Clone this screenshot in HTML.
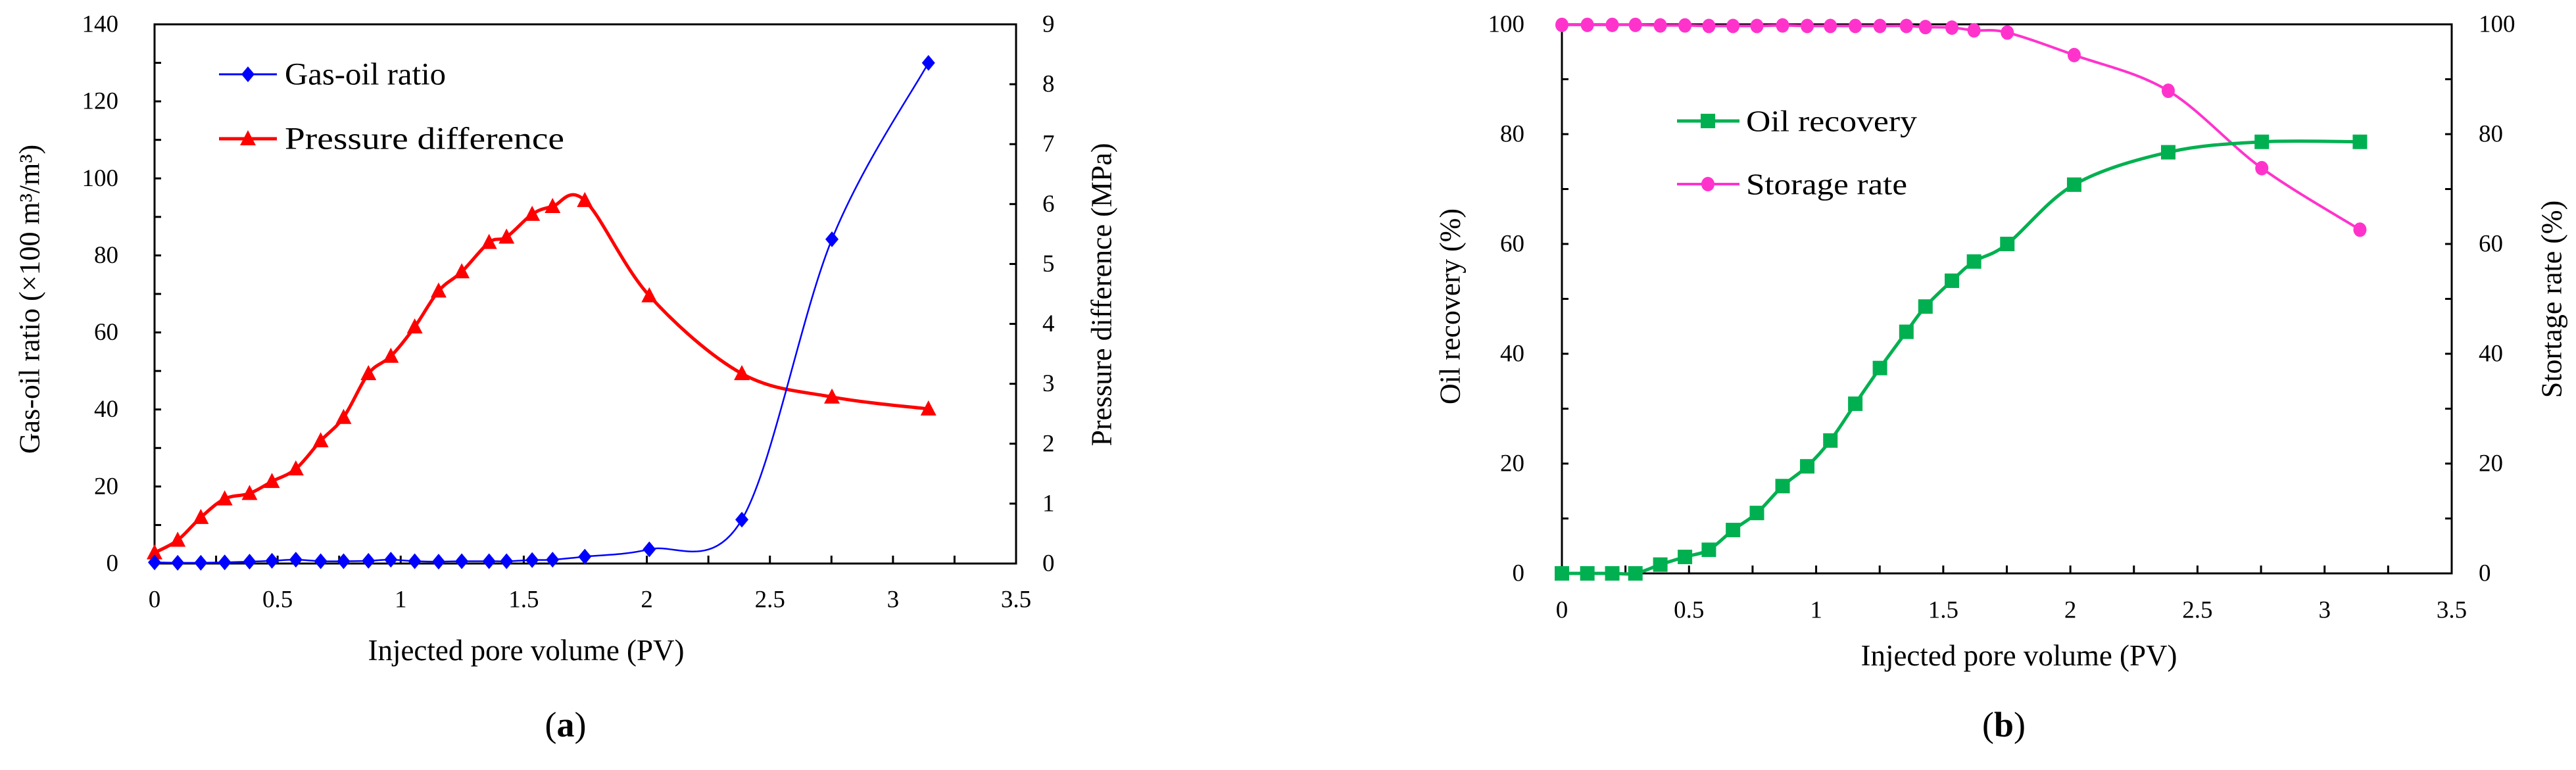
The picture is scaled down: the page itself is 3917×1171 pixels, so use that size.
<!DOCTYPE html>
<html><head><meta charset="utf-8"><style>
body{margin:0;background:#fff}
svg{display:block}
text{font-family:"Liberation Serif",serif;fill:#000}
</style></head><body>
<svg id="c" width="3917" height="1171" viewBox="0 0 3917 1171"></svg>
<script>
const xA=[0,0.094,0.188,0.285,0.386,0.477,0.574,0.675,0.768,0.869,0.96,1.057,1.154,1.248,1.359,1.43,1.534,1.617,1.748,2.01,2.386,2.752,3.144];
const gorVals=[0.3,0.2,0.2,0.3,0.5,0.7,1.0,0.6,0.6,0.7,1.0,0.6,0.5,0.6,0.6,0.6,0.9,1.0,1.8,3.7,11.4,84.2,130];
const pressVals=[0.18,0.39,0.77,1.08,1.17,1.37,1.58,2.05,2.44,3.17,3.46,3.95,4.55,4.87,5.36,5.45,5.83,5.96,6.06,4.47,3.17,2.78,2.58];
const xB=[0,0.1,0.198,0.289,0.387,0.484,0.578,0.673,0.767,0.868,0.965,1.056,1.154,1.251,1.355,1.43,1.534,1.621,1.752,2.015,2.385,2.753,3.139];
const oilVals=[0,0,0,0,1.6,3.0,4.3,7.9,11,15.9,19.5,24.2,30.9,37.4,44,48.6,53.3,56.8,60,70.8,76.7,78.6,78.6];
const storVals=[99.9,99.9,99.9,99.9,99.8,99.8,99.7,99.7,99.7,99.8,99.7,99.7,99.7,99.7,99.7,99.5,99.4,98.9,98.5,94.4,87.9,73.8,62.6];
const xTicks=["0","0.5","1","1.5","2","2.5","3","3.5"];
const aLeftTicks=["0","20","40","60","80","100","120","140"];
const aRightTicks=["0","1","2","3","4","5","6","7","8","9"];
const bTicks=["0","20","40","60","80","100"];

const svg=document.getElementById('c');
const NS='http://www.w3.org/2000/svg';
function mk(tag,at,parent){const e=document.createElementNS(NS,tag);for(const k in at)e.setAttribute(k,at[k]);(parent||svg).appendChild(e);return e;}
function txt(s,x,y,size,anchor,name,extra){const t=mk('text',Object.assign({x:x,y:y,'font-size':size,'text-anchor':anchor,'dominant-baseline':'central'},extra||{}));t.textContent=s;


return t;}
function spline(pts){let d='M'+pts[0][0]+','+pts[0][1];for(let i=0;i<pts.length-1;i++){const p0=pts[Math.max(0,i-1)],p1=pts[i],p2=pts[i+1],p3=pts[Math.min(pts.length-1,i+2)];const k=1/6;d+=' C'+(p1[0]+(p2[0]-p0[0])*k)+','+(p1[1]+(p2[1]-p0[1])*k)+' '+(p2[0]-(p3[0]-p1[0])*k)+','+(p2[1]-(p3[1]-p1[1])*k)+' '+p2[0]+','+p2[1];}return d;}
function marker(type,x,y,col,g){let e;
if(type==='diamond')e=mk('polygon',{points:`${x},${y-12} ${x+10},${y} ${x},${y+12} ${x-10},${y}`,fill:col},g);
else if(type==='tri')e=mk('polygon',{points:`${x},${y-13} ${x+12},${y+10} ${x-12},${y+10}`,fill:col},g);
else if(type==='sq')e=mk('rect',{x:x-11,y:y-11,width:22,height:22,fill:col},g);
else e=mk('ellipse',{cx:x,cy:y,rx:10,ry:11,fill:col},g);

}
function series(xs,ys,sx,sy,col,w,type,name){const g=mk('g',{});


const pts=xs.map((v,i)=>[sx(v),sy(ys[i])]);mk('path',{d:spline(pts),fill:'none',stroke:col,'stroke-width':w},g);pts.forEach(p=>marker(type,p[0],p[1],col,g));}
function frame(L,R,T,B,name){const g=mk('g',{});


mk('rect',{x:L,y:T,width:R-L,height:B-T,fill:'none',stroke:'#000','stroke-width':3},g);return g;}
const stretch=n=>({textLength:n,lengthAdjust:'spacingAndGlyphs'});

// Chart A
(function(){const L=235,R=1545,T=37,B=857;const sx=v=>L+v/3.5*(R-L);const syL=v=>B-v/140*(B-T);const syR=v=>B-v/9*(B-T);
const g=frame(L,R,T,B,'chart-a-frame');
for(let i=0;i<=14;i++){const x=sx(i*0.25);mk('line',{x1:x,y1:B,x2:x,y2:B-12,stroke:'#000','stroke-width':3},g);}
for(let i=0;i<=14;i++){const y=syL(i*10);mk('line',{x1:L,y1:y,x2:L+10,y2:y,stroke:'#000','stroke-width':3},g);}
for(let i=0;i<=9;i++){const y=syR(i);mk('line',{x1:R,y1:y,x2:R-10,y2:y,stroke:'#000','stroke-width':3},g);}
xTicks.forEach((s,i)=>txt(s,sx(i*0.5),912,37,'middle','x-tick-label'));
aLeftTicks.forEach((s,i)=>txt(s,180,syL(i*20),37,'end','left-y-tick-label'));
aRightTicks.forEach((s,i)=>txt(s,1585,syR(i),37,'start','right-y-tick-label'));
txt('Injected pore volume (PV)',800,989,45,'middle','x-axis-title');
txt('Gas-oil ratio (×100 m³/m³)',0,0,44,'middle','left-y-axis-title',{transform:'translate(45,455) rotate(-90)'});
txt('Pressure difference (MPa)',0,0,44,'middle','right-y-axis-title',{transform:'translate(1675,448) rotate(-90)'});
series(xA,pressVals,sx,syR,'#ff0000',5,'tri','pressure-difference-series');
series(xA,gorVals,sx,syL,'#0000ff',2.5,'diamond','gas-oil-ratio-series');
const lg=mk('g',{});
mk('line',{x1:333,y1:113,x2:421,y2:113,stroke:'#0000ff','stroke-width':3},lg);marker('diamond',377,113,'#0000ff',lg);
mk('line',{x1:333,y1:211,x2:421,y2:211,stroke:'#ff0000','stroke-width':5},lg);marker('tri',377,211,'#ff0000',lg);
txt('Gas-oil ratio',433,113,48,'start','legend-entry-gas-oil-ratio',stretch(245));
txt('Pressure difference',433,211,48,'start','legend-entry-pressure-difference',stretch(425));
const a=txt('',860,1102,54,'middle','panel-label-a');a.innerHTML='(<tspan font-weight="bold">a</tspan>)';
})();
// Chart B
(function(){const L=2375,R=3728,T=37,B=872;const sx=v=>L+v/3.5*(R-L);const sy=v=>B-v/100*(B-T);
const g=frame(L,R,T,B,'chart-b-frame');
for(let i=0;i<=14;i++){const x=sx(i*0.25);mk('line',{x1:x,y1:B,x2:x,y2:B-12,stroke:'#000','stroke-width':3},g);}
for(let i=0;i<=10;i++){const y=sy(i*10);mk('line',{x1:L,y1:y,x2:L+10,y2:y,stroke:'#000','stroke-width':3},g);mk('line',{x1:R,y1:y,x2:R-10,y2:y,stroke:'#000','stroke-width':3},g);}
xTicks.forEach((s,i)=>txt(s,sx(i*0.5),928,37,'middle','x-tick-label'));
bTicks.forEach((s,i)=>txt(s,2318,sy(i*20),37,'end','left-y-tick-label'));
bTicks.forEach((s,i)=>txt(s,3769,sy(i*20),37,'start','right-y-tick-label'));
txt('Injected pore volume (PV)',3070,997,45,'middle','x-axis-title');
txt('Oil recovery (%)',0,0,44,'middle','left-y-axis-title',{transform:'translate(2205,466) rotate(-90)'});
txt('Stortage rate (%)',0,0,44,'middle','right-y-axis-title',{transform:'translate(3880,455) rotate(-90)'});
series(xB,storVals,sx,sy,'#ff33cc',4,'circle','storage-rate-series');
series(xB,oilVals,sx,sy,'#00b050',5,'sq','oil-recovery-series');
const lg=mk('g',{});
mk('line',{x1:2550,y1:184,x2:2645,y2:184,stroke:'#00b050','stroke-width':5},lg);marker('sq',2597,184,'#00b050',lg);
mk('line',{x1:2550,y1:280,x2:2645,y2:280,stroke:'#ff33cc','stroke-width':4},lg);marker('circle',2597,280,'#ff33cc',lg);
txt('Oil recovery',2655,184,46,'start','legend-entry-oil-recovery',stretch(260));
txt('Storage rate',2655,280,46,'start','legend-entry-storage-rate',stretch(245));
const b=txt('',3047,1102,54,'middle','panel-label-b');b.innerHTML='(<tspan font-weight="bold">b</tspan>)';
})();
</script>
</body></html>
